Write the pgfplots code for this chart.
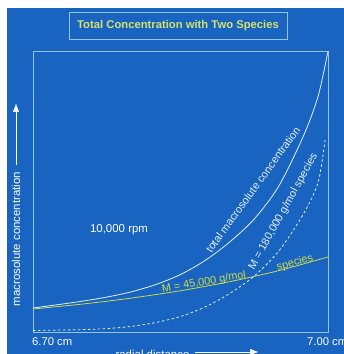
\documentclass[border=0pt]{standalone}
\usepackage{pgfplots}
\pgfplotsset{compat=1.18}
\usetikzlibrary{arrows.meta}
\usepackage{fontspec}
\setmainfont{Liberation Sans}
\definecolor{bgblue}{RGB}{24,100,192}
\definecolor{boxline}{RGB}{150,195,240}
\definecolor{ylw}{RGB}{205,220,70}
\definecolor{ttl}{RGB}{215,225,110}
\definecolor{curvewhite}{RGB}{230,240,255}
\begin{document}
\begin{tikzpicture}[x=1bp,y=1bp]
\fill[white] (0,0) rectangle (344,354);
\fill[bgblue] (7,0) rectangle (344,346);
\useasboundingbox (0,0) rectangle (344,354);
% title box
\draw[boxline, line width=0.5pt] (69,315) rectangle (287,342);
\node[text=ttl, font=\bfseries\fontsize{11.3}{13}\selectfont] at (178,328.5) {Total Concentration with Two Species};
\begin{axis}[
  at={(33bp,22bp)}, anchor=south west,
  scale only axis, width=295bp, height=281bp,
  xmin=6.70, xmax=7.00, ymin=0, ymax=281,
  xtick=\empty, ytick=\empty,
  axis line style={boxline, line width=0.6pt},
  clip=false,
]
% total macrosolute concentration
\addplot[curvewhite, line width=0.8pt, smooth, tension=0.5] coordinates {
 (6.700,24) (6.725,27.3) (6.750,30.8) (6.775,34.9) (6.800,40.2) (6.825,47.5)
 (6.850,57.5) (6.875,71.5) (6.900,90) (6.925,113) (6.950,146) (6.975,196)
 (6.990,236) (7.000,281)};
% M = 45,000 species
\addplot[ylw, line width=0.8pt, smooth] coordinates {
 (6.700,23) (6.750,27.9) (6.800,33.9) (6.850,41.3) (6.900,50.3) (6.950,61.4) (7.000,75)};
% M = 180,000 species
\addplot[curvewhite, line width=0.8pt, dash pattern=on 2.5pt off 2.5pt, smooth, tension=0.5] coordinates {
 (6.700,1.5) (6.725,1.9) (6.750,2.4) (6.775,3.4) (6.800,5.6) (6.825,9.5)
 (6.850,15.5) (6.875,25) (6.900,38.5) (6.925,56) (6.950,81) (6.975,118)
 (6.990,150) (6.997,192)};
\node[text=curvewhite, rotate=54, font=\fontsize{11}{13}\selectfont] at (axis cs:6.9237,142.5) {total macrosolute concentration};
\node[text=curvewhite, rotate=61, font=\fontsize{11}{13}\selectfont] at (axis cs:6.9546,120.3) {M = 180,000 g/mol species};
\node[text=ylw, rotate=10, font=\fontsize{11}{13}\selectfont] at (axis cs:6.8739,49.5) {M = 45,000 g/mol};
\node[text=ylw, rotate=15, font=\fontsize{11}{13}\selectfont] at (axis cs:6.9664,69) {species};
\node[text=white, font=\fontsize{11.5}{13}\selectfont] at (axis cs:6.7875,102) {10,000 rpm};
\end{axis}
\node[text=white, anchor=west, font=\fontsize{11.3}{13}\selectfont, inner sep=0pt] at (32,12.3) {6.70 cm};
\node[text=white, anchor=west, font=\fontsize{11.3}{13}\selectfont, inner sep=0pt] at (307,12.3) {7.00 cm};
% x label
\node[text=white, anchor=base, font=\fontsize{11.5}{13}\selectfont, inner sep=0pt] at (152.5,-4.5) {radial distance};
\draw[white, line width=0.6pt, -{Triangle[width=6bp,length=8bp]}] (195,2) -- (258,2);
% y label
\node[text=white, rotate=90, font=\fontsize{11.5}{13}\selectfont, inner sep=0pt] at (16,115) {macrosolute concentration};
\draw[white, line width=0.6pt, -{Triangle[width=6bp,length=8bp]}] (16,189) -- (16,250);
\end{tikzpicture}
\end{document}
